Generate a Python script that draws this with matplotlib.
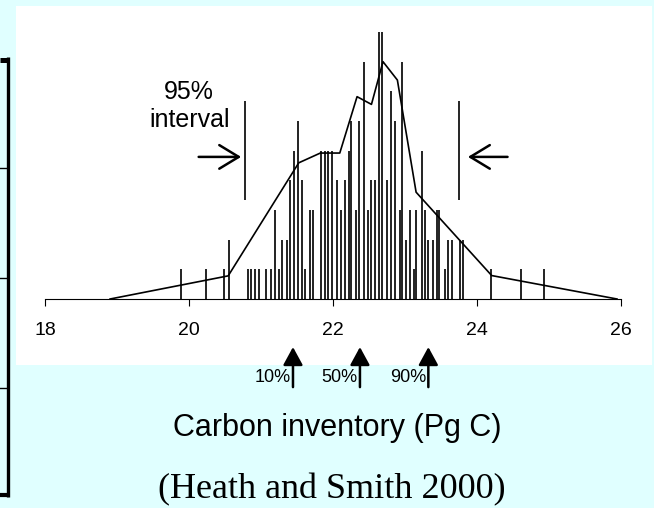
import numpy as np
import matplotlib.pyplot as plt
from matplotlib.patches import Rectangle

## Spike histogram of simulated carbon inventories
carbon = [19.89, 20.23, 20.48, 20.55, 20.81, 20.86, 20.91, 20.97, 21.07, 21.13,
          21.19, 21.24, 21.29, 21.35, 21.40, 21.45, 21.51, 21.57, 21.61, 21.67,
          21.72, 21.83, 21.88, 21.93, 21.98, 22.05, 22.11, 22.16, 22.22, 22.25,
          22.31, 22.36, 22.42, 22.48, 22.53, 22.58, 22.63, 22.68, 22.74, 22.80,
          22.86, 22.92, 22.95, 23.01, 23.07, 23.12, 23.15, 23.23, 23.27, 23.32,
          23.38, 23.44, 23.47, 23.55, 23.59, 23.65, 23.76, 23.80, 24.19, 24.61,
          24.93]
counts = [1, 1, 1, 2, 1, 1, 1, 1, 1, 1,
          3, 1, 2, 2, 4, 5, 6, 4, 1, 3,
          3, 5, 5, 5, 5, 4, 3, 4, 5, 6,
          3, 6, 8, 3, 4, 4, 9, 9, 4, 7,
          6, 3, 8, 2, 3, 1, 3, 5, 3, 2,
          2, 3, 3, 1, 2, 2, 2, 2, 1, 1,
          1]

## frequency polygon
poly_x = [18.90, 20.54, 21.52, 21.82, 22.09, 22.33, 22.53, 22.69, 22.89, 23.15, 24.20, 25.94]
poly_y = [0.0, 0.78, 4.59, 4.92, 4.92, 6.82, 6.56, 8.0, 7.38, 3.6, 0.79, 0.0]

interval95 = [20.77, 23.74]
pct_labels = ['10%', '50%', '90%']
pct_values = [21.44, 22.37, 23.32]
xticks = [18, 20, 22, 24, 26]

W, H = 654, 508
fig = plt.figure(figsize=(W/100, H/100), dpi=100, facecolor='#E0FFFF')

## background layer in pixel coordinates
bg = fig.add_axes([0, 0, 1, 1], zorder=-1)
bg.set_xlim(0, W)
bg.set_ylim(H, 0)
bg.axis('off')
bg.add_patch(Rectangle((16, 6), 636, 359, facecolor='white', edgecolor='none'))
# part of a neighbouring box at the left edge
bg.plot([0, 9.3], [59.5, 59.5], color='k', lw=3.6, solid_capstyle='butt')
bg.plot([7.7, 7.7], [57, 497], color='k', lw=2.4, solid_capstyle='butt')
bg.plot([0, 9.3], [494.5, 494.5], color='k', lw=3.0, solid_capstyle='butt')
for yy in [168, 278, 388]:
    bg.plot([0, 7], [yy, yy], color='k', lw=1.0)

## main plot
ax = fig.add_axes([45.3/W, 1 - 299/H, 576/W, 267/H])
ax.patch.set_alpha(0)
ax.set_xlim(18, 26)
ax.set_ylim(0, 9)
for s in ['top', 'right', 'left']:
    ax.spines[s].set_visible(False)
ax.spines['bottom'].set_linewidth(0.8)
ax.set_yticks([])
ax.set_xticks(xticks)
ax.set_xticklabels([str(t) for t in xticks], family='Liberation Sans', fontsize=14)
ax.tick_params(axis='x', length=5, width=0.8, pad=11.5)

ax.vlines(carbon, 0, counts, color='#111111', lw=1.3)
ax.plot(poly_x, poly_y, color='k', lw=1.2)

## 95% interval marks
ax.vlines(interval95, 3.34, 6.67, color='k', lw=1.2)
ax.annotate('', xy=(interval95[0] - 0.05, 4.79), xytext=(20.13, 4.79),
            arrowprops=dict(arrowstyle='->,head_length=1.4,head_width=0.85',
                            lw=1.8, color='k', shrinkA=0, shrinkB=0))
ax.annotate('', xy=(interval95[1] + 0.13, 4.79), xytext=(24.42, 4.79),
            arrowprops=dict(arrowstyle='->,head_length=1.4,head_width=0.85',
                            lw=1.8, color='k', shrinkA=0, shrinkB=0))
ax.text(20.0, 6.5, '95%\ninterval', ha='center', va='center',
        family='Liberation Sans', fontsize=18, linespacing=1.2)

## percentile arrows below the axis
for lab, v in zip(pct_labels, pct_values):
    ax.annotate('', xy=(v, -1.62), xytext=(v, -2.97), annotation_clip=False,
                arrowprops=dict(arrowstyle='-|>,head_length=1.1,head_width=0.6',
                                lw=1.8, color='k', shrinkA=0, shrinkB=0))
    ax.text(v - 0.03, -2.66, lab, ha='right', va='center', clip_on=False,
            family='Liberation Sans', fontsize=13)

fig.text(337/W, 1 - 428/H, 'Carbon inventory (Pg C)', ha='center', va='center',
         family='Liberation Sans', fontsize=22)
fig.text(332/W, 1 - 490/H, '(Heath and Smith 2000)', ha='center', va='center',
         family='Liberation Serif', fontsize=26)

fig.savefig('out.png', dpi=100, facecolor=fig.get_facecolor())
